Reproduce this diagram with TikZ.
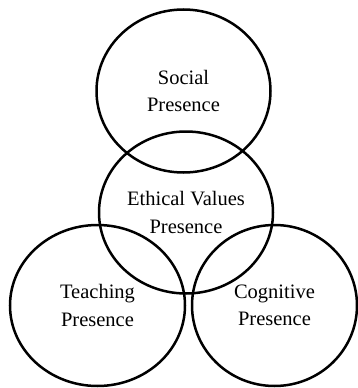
\documentclass[tikz,border=0pt]{standalone}
\usepackage{fontspec}
\setmainfont{Liberation Serif}
\usetikzlibrary{shapes.geometric}

\tikzset{
    presence/.style={draw=black, line width=2.5pt, ellipse, align=center,
        inner sep=0pt, font=\fontsize{20.5}{27.5}\selectfont}
}

\begin{document}
\begin{tikzpicture}[x=1pt, y=-1pt]
    \useasboundingbox (0,0) rectangle (358,388);

    % Social
    \node[presence, minimum width=174pt, minimum height=163pt] (social) at (183.5,91) {Social\\Presence};

    % Ethical values
    \node[presence, minimum width=174pt, minimum height=162pt] (ethical) at (186,212.5) {Ethical Values\\Presence};

    % Teaching
    \node[presence, minimum width=175pt, minimum height=161pt] (teaching) at (97.5,305.5) {Teaching\\Presence};

    % Cognitive
    \node[presence, minimum width=165pt, minimum height=161pt] (cognitive) at (274.5,305.5) {Cognitive\\Presence};
\end{tikzpicture}
\end{document}
